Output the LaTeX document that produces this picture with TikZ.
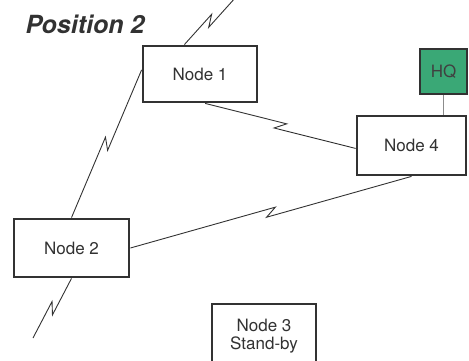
\documentclass[tikz,border=0pt]{standalone}
\usepackage{fontspec}
\setmainfont{TeX Gyre Heros}
\usetikzlibrary{calc}
\definecolor{hqgreen}{RGB}{58,168,118}
\definecolor{ink}{RGB}{50,50,50}

\begin{document}
\begin{tikzpicture}[x=1pt, y=1pt,
   every node/.style = {font=\fontsize{17}{18}\selectfont, text=ink},
   station/.style = {draw=ink, line width=2.8pt, fill=white, align=center},
   bolt/.style = {to path={-- ($(\tikztostart)!.5!(\tikztotarget)!5.5pt!(\tikztotarget)!3.8pt!90:(\tikztotarget)$)
      -- ($(\tikztostart)!.5!(\tikztotarget)!-5.5pt!(\tikztotarget)!3.8pt!-90:(\tikztotarget)$) -- (\tikztotarget)}},
   link/.style = {draw=ink, line width=0.9pt}]
   \useasboundingbox (0,0) rectangle (469,360);
   \node[font=\fontsize{25}{28}\selectfont\bfseries\itshape, text=ink] (title) at (85,336) {Position 2};
   \node[station, minimum width=114, minimum height=56] (node1) at (200,286) {Node 1};
   \node[station, minimum width=115, minimum height=58] (node2) at (71.5,112) {Node 2};
   \node[station, minimum width=104, minimum height=64] (node3) at (264,24) {Node 3\\Stand-by};
   \node[station, minimum width=109, minimum height=59] (node4) at (411.5,214.5) {Node 4};
   \node[station, fill=hqgreen, minimum width=47, minimum height=45, text=black!75] (hq) at (443.5,288.5) {HQ};
   \coordinate (out1) at (236,363);
   \coordinate (out2) at (33,22);
   \draw[link] (node1.118) to[bolt] (out1);
   \draw[link] (node1.176) to[bolt] (node2.north);
   \draw[link] (node1.280) to[bolt] (node4.183);
   \draw[link] (node2.east) to[bolt] (node4.south);
   \draw[link] (node2.south) to[bolt] (out2);
   \draw[draw=black!45, line width=1.4pt] (hq.south) -- (hq.south |- node4.north);
\end{tikzpicture}
\end{document}
